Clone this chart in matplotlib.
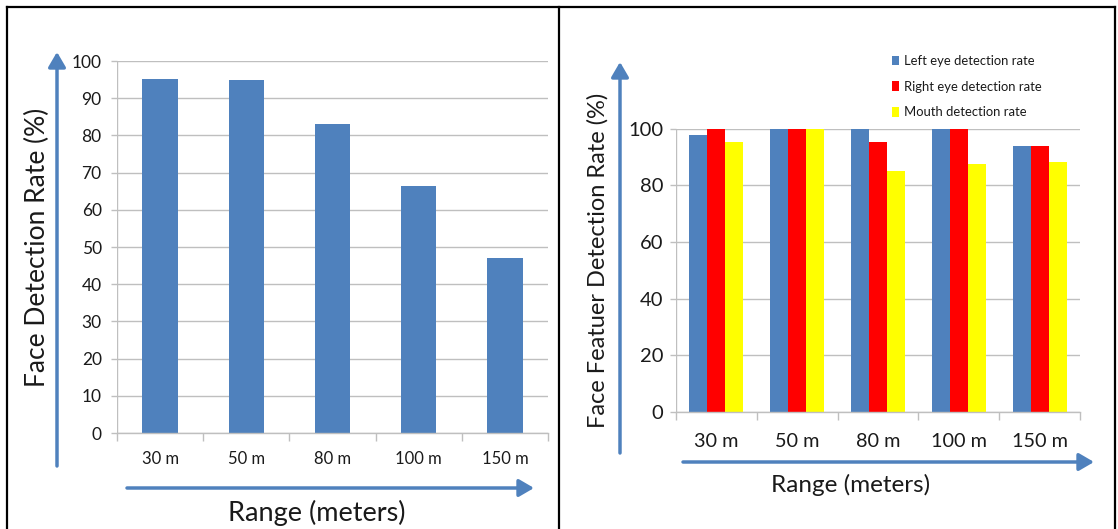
import matplotlib
matplotlib.use("Agg")
import matplotlib.pyplot as plt
from matplotlib.lines import Line2D
from matplotlib.patches import FancyArrowPatch
import numpy as np

plt.rcParams['font.family'] = ['Lato', 'DejaVu Sans']

categories = ['30 m', '50 m', '80 m', '100 m', '150 m']
face_rate = [95.1, 94.8, 83.1, 66.5, 47.1]

left_eye = [97.6, 100, 100, 100, 93.9]
right_eye = [100, 100, 95.1, 100, 93.9]
mouth = [95.1, 100, 84.9, 87.5, 88.2]
series_names = ['Left eye detection rate', 'Right eye detection rate', 'Mouth detection rate']

BLUE = '#4F81BD'
RED = '#FF0000'
YELLOW = '#FFFF00'
GRID = '#BFBFBF'
ARROW = '#4F81BD'
TXT = '#1a1a1a'

W, H = 1118, 529
fig = plt.figure(figsize=(W / 100, H / 100), dpi=100)
fig.patch.set_facecolor('white')

def fx(px):
    return px / W

def fy(py):
    return 1 - py / H

def style_axes(ax, n, yfs, xfs, xpad, ypad):
    for s in ['top', 'right', 'left']:
        ax.spines[s].set_visible(False)
    ax.spines['bottom'].set_color(GRID)
    ax.spines['bottom'].set_linewidth(1.0)
    ax.set_axisbelow(True)
    ax.yaxis.grid(True, color=GRID, linewidth=1.0)
    ax.tick_params(axis='y', length=4, color=GRID, width=1.0, labelsize=yfs, labelcolor=TXT, pad=ypad)
    ax.set_xlim(-0.5, n - 0.5)
    ax.set_xticks(np.arange(n))
    ax.set_xticklabels(categories)
    ax.tick_params(axis='x', which='major', length=0, labelsize=xfs, labelcolor=TXT, pad=xpad)
    ax.set_xticks(np.arange(n + 1) - 0.5, minor=True)
    ax.tick_params(axis='x', which='minor', length=6, color=GRID, width=1.0)
    ax.axvline(-0.5, color=GRID, linewidth=1.0, zorder=0.5)

# ---------------- Left chart ----------------
ax1 = fig.add_axes([fx(117), fy(433), fx(548 - 117), (433 - 61) / H])
x = np.arange(len(categories))
ax1.bar(x, face_rate, width=0.41, color=BLUE, zorder=2)
ax1.set_ylim(0, 100)
ax1.set_yticks(np.arange(0, 101, 10))
style_axes(ax1, len(categories), 12.5, 12, 13, 7)

fig.text(fx(37), fy(247), 'Face Detection Rate (%)', rotation=90, ha='center', va='center',
         fontsize=19, color=TXT)
fig.text(fx(317), fy(513), 'Range (meters)', ha='center', va='center', fontsize=19.5, color=TXT)

# ---------------- Right chart ----------------
ax2 = fig.add_axes([fx(676), fy(412), fx(1080 - 676), (412 - 128.5) / H])
bw = 0.2222
ax2.bar(x - bw, left_eye, width=bw, color=BLUE, zorder=2, label=series_names[0])
ax2.bar(x, right_eye, width=bw, color=RED, zorder=2, label=series_names[1])
ax2.bar(x + bw, mouth, width=bw, color=YELLOW, zorder=2, label=series_names[2])
ax2.set_ylim(0, 100)
ax2.set_yticks(np.arange(0, 101, 20))
style_axes(ax2, len(categories), 14.5, 14.3, 15, 5)

leg = fig.legend(loc='upper left', bbox_to_anchor=(fx(892), fy(55)), frameon=False,
                 fontsize=9.4, handlelength=0.55, handleheight=0.75, handletextpad=0.4,
                 labelspacing=1.05, borderaxespad=0, borderpad=0)
for t in leg.get_texts():
    t.set_color(TXT)

fig.text(fx(598), fy(260), 'Face Featuer Detection Rate (%)', rotation=90, ha='center', va='center',
         fontsize=17, color=TXT)
fig.text(fx(851), fy(485), 'Range (meters)', ha='center', va='center', fontsize=17.5, color=TXT)

# ---------------- Arrows ----------------
def arrow(x0, y0, x1, y1):
    fig.add_artist(FancyArrowPatch(
        (fx(x0), fy(y0)), (fx(x1), fy(y1)), transform=fig.transFigure,
        arrowstyle='-|>,head_length=6,head_width=3.5', mutation_scale=1.5,
        color=ARROW, linewidth=2.5, shrinkA=0, shrinkB=0))

arrow(57, 466, 57, 52)
arrow(127, 488, 534, 488)
arrow(620, 453, 620, 62)
arrow(683, 462, 1094, 462)

# ---------------- Frame lines ----------------
for (xa, ya, xb, yb) in [(7, 7, 1115, 7), (7, 7, 7, 529), (559, 7, 559, 529), (1115, 7, 1115, 529)]:
    fig.add_artist(Line2D([fx(xa), fx(xb)], [fy(ya), fy(yb)], transform=fig.transFigure,
                          color='black', linewidth=1.6))

fig.savefig('out.png', dpi=100)
